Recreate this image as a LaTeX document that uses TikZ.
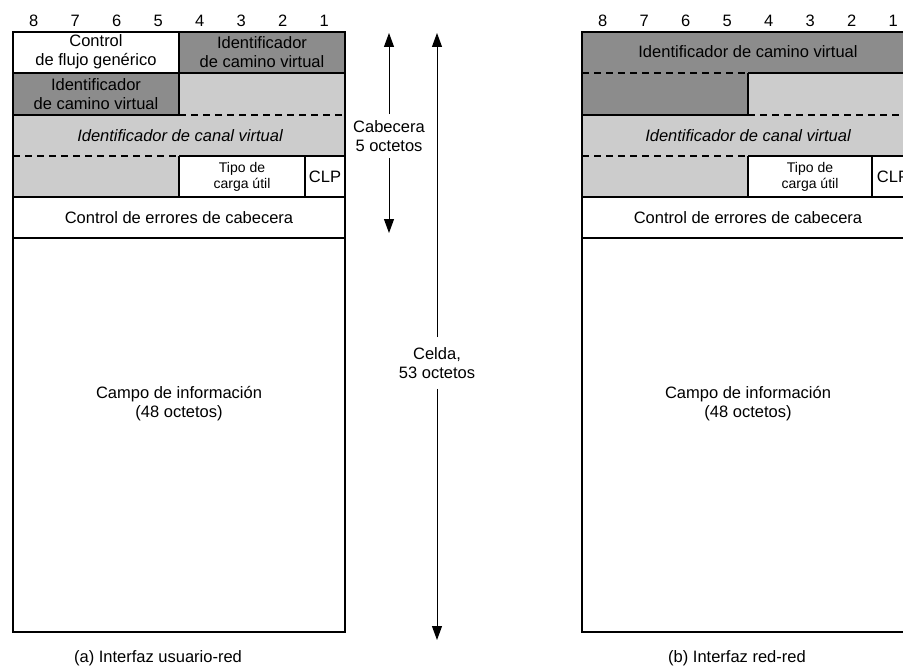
\documentclass[tikz,border=0pt]{standalone}
\usepackage{fontspec}
\setmainfont{Liberation Sans}
\usetikzlibrary{arrows.meta}
\begin{document}
\begin{tikzpicture}[x=1pt,y=-1pt,
  txt/.style={font=\fontsize{16.5}{19}\selectfont, align=center, inner sep=0pt},
  smalltxt/.style={font=\fontsize{14}{16}\selectfont, align=center, inner sep=0pt},
  frame/.style={line width=2pt},
  sep/.style={line width=1.5pt},
  dsep/.style={line width=2pt, dash pattern=on 7pt off 5pt},
  arr/.style={line width=1pt, -{Triangle[length=14pt,width=10pt]}},
  darkfill/.style={fill=black!45},
  lightfill/.style={fill=black!20}]
\useasboundingbox (0,0) rectangle (903,669);
\clip (0,0) rectangle (903,669);

% ---------------- Panel (a) ----------------
\fill[darkfill] (179,32) rectangle (345,73);
\fill[darkfill] (13,73) rectangle (179,115);
\fill[lightfill] (179,73) rectangle (345,115);
\fill[lightfill] (13,115) rectangle (345,156);
\fill[lightfill] (13,156) rectangle (179,197);

\draw[sep] (13,73) -- (345,73);
\draw[sep] (179,32) -- (179,73);
\draw[frame] (13,73) rectangle (179,115);
\draw[dsep] (179,115) -- (345,115);
\draw[dsep] (13,156) -- (179,156);
\draw[sep] (179,156) -- (345,156);
\draw[sep] (179,156) -- (179,197);
\draw[sep] (305,156) -- (305,197);
\draw[sep] (13,197) -- (345,197);
\draw[sep] (13,238) -- (345,238);
\draw[frame] (13,32) rectangle (345,632);

\foreach \b [count=\i] in {8,7,6,5,4,3,2,1}
  \node[txt] (na\b) at ({13+41.5*(\i-0.5)},21) {\b};

\node[txt] (afc) at (96,52) {Control\\de flujo genérico};
\node[txt] (avp1) at (262,52) {Identificador\\de camino virtual};
\node[txt] (avp2) at (96,94) {Identificador\\de camino virtual};
\node[txt] (avc) at (180,136) {\itshape Identificador de canal virtual};
\node[smalltxt] (apt) at (242,177) {Tipo de\\carga útil};
\node[txt] (aclp) at (325,177) {CLP};
\node[txt] (ahec) at (179,218) {Control de errores de cabecera};
\node[txt] (ainf) at (179,404) {Campo de información\\(48 octetos)};
\node[txt] (acap) at (158,658) {(a) Interfaz usuario-red};

% ---------------- Arrows ----------------
\coordinate (cabtop) at (389,33);
\coordinate (cabbot) at (389,233);
\node[txt, inner ysep=6pt] (cab) at (389,136) {Cabecera\\5 octetos};
\draw[arr] (cab.north) -- (cabtop);
\draw[arr] (cab.south) -- (cabbot);

\coordinate (celtop) at (437,33);
\coordinate (celbot) at (437,640);
\node[txt, inner ysep=10pt] (cel) at (437,363) {Celda,\\53 octetos};
\draw[arr] (cel.north) -- (celtop);
\draw[arr] (cel.south) -- (celbot);

% ---------------- Panel (b) ----------------
\fill[darkfill] (582,32) rectangle (914,73);
\fill[darkfill] (582,73) rectangle (748,115);
\fill[lightfill] (748,73) rectangle (914,115);
\fill[lightfill] (582,115) rectangle (914,156);
\fill[lightfill] (582,156) rectangle (748,197);

\draw[dsep] (582,73) -- (748,73);
\draw[sep] (748,73) -- (914,73);
\draw[sep] (748,73) -- (748,115);
\draw[sep] (582,115) -- (748,115);
\draw[dsep] (748,115) -- (914,115);
\draw[dsep] (582,156) -- (748,156);
\draw[sep] (748,156) -- (914,156);
\draw[sep] (748,156) -- (748,197);
\draw[sep] (872,156) -- (872,197);
\draw[sep] (582,197) -- (914,197);
\draw[sep] (582,238) -- (914,238);
\draw[frame] (582,32) rectangle (914,632);

\foreach \b [count=\i] in {8,7,6,5,4,3,2,1}
  \node[txt] (nb\b) at ({582+41.5*(\i-0.5)},21) {\b};

\node[txt] (bvp) at (748,52) {Identificador de camino virtual};
\node[txt] (bvc) at (748,136) {\itshape Identificador de canal virtual};
\node[smalltxt] (bpt) at (810,177) {Tipo de\\carga útil};
\node[txt] (bclp) at (893,177) {CLP};
\node[txt] (bhec) at (748,218) {Control de errores de cabecera};
\node[txt] (binf) at (748,404) {Campo de información\\(48 octetos)};
\node[txt] (bcap) at (737,658) {(b) Interfaz red-red};
\end{tikzpicture}
\end{document}
